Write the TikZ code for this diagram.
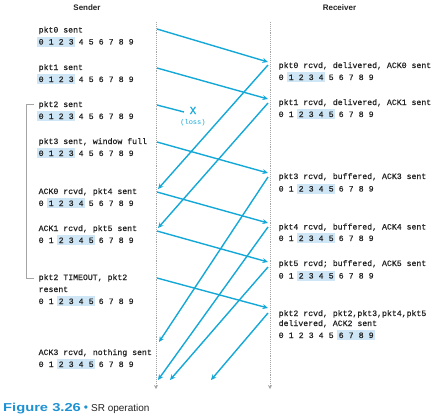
\documentclass[tikz,border=0pt]{standalone}
\usepackage{fontspec}
\usepackage{graphicx}
\setmainfont{Liberation Sans}
\setmonofont{Liberation Mono}
\newfontfamily\mymono[FakeBold=0.5]{Liberation Mono}
\usetikzlibrary{arrows.meta}
\definecolor{arrowc}{RGB}{20,168,214}
\definecolor{hlc}{RGB}{206,230,246}
\definecolor{txtc}{RGB}{35,35,35}
\definecolor{capc}{RGB}{30,145,210}
\definecolor{tlc}{RGB}{165,165,165}
\tikzset{
  txt/.style={anchor=base west, inner sep=0pt, font=\mymono\fontsize{8.2}{10}\selectfont, text=txtc},
  msg/.style={draw=arrowc, line width=1.4pt, -{Stealth[length=5.5pt,width=5pt]}},
  lost/.style={draw=arrowc, line width=1.4pt},
  tline/.style={draw=tlc, line width=0.9pt, densely dotted, -{Stealth[length=4pt,width=4pt]}},
  brk/.style={draw=tlc, line width=0.8pt},
  hl/.style={fill=hlc},
  ttl/.style={inner sep=0pt, font=\bfseries\fontsize{8}{10}\selectfont, text=txtc},
}
\newcommand\digrow[5]{%
  \fill[hl] ({#2+10*#4-2},{#3-7.6}) rectangle ({#2+10*#5+6.9},{#3+2.4});
  \foreach \k in {0,...,9} \node[txt] (#1-\k) at ({#2+10*\k},#3) {\k};
}
\begin{document}
\begin{tikzpicture}[x=1pt,y=-1pt]
\useasboundingbox (0,0) rectangle (432,418);
% titles
\node[ttl] (sender) at (87,8) {Sender};
\node[ttl] (receiver) at (339.5,8) {Receiver};
% timelines
\coordinate (sTop) at (156,22); \coordinate (sBot) at (156,389);
\coordinate (rTop) at (270,22); \coordinate (rBot) at (270,389);
\draw[tline] (sTop) -- (sBot);
\draw[tline] (rTop) -- (rBot);
% bracket
\coordinate (b1) at (34,104); \coordinate (b2) at (26,104);
\coordinate (b3) at (26,278); \coordinate (b4) at (34,278);
\draw[brk] (b1) -- (b2) -- (b3) -- (b4);
% sender texts
\node[txt] (s0) at (38.5,32.5) {pkt0 sent};
\digrow{s0r}{38.5}{44.5}{0}{3}
\node[txt] (s1) at (38.5,70) {pkt1 sent};
\digrow{s1r}{38.5}{82}{0}{3}
\node[txt] (s2) at (38.5,107) {pkt2 sent};
\digrow{s2r}{38.5}{119}{0}{3}
\node[txt] (s3) at (38.5,144) {pkt3 sent, window full};
\digrow{s3r}{38.5}{156}{0}{3}
\node[txt] (s4) at (38.5,194) {ACK0 rcvd, pkt4 sent};
\digrow{s4r}{38.5}{206}{1}{4}
\node[txt] (s5) at (38.5,231) {ACK1 rcvd, pkt5 sent};
\digrow{s5r}{38.5}{243}{2}{5}
\node[txt] (s6) at (38.5,280) {pkt2 TIMEOUT, pkt2};
\node[txt] (s6b) at (38.5,292) {resent};
\digrow{s6r}{38.5}{304}{2}{5}
\node[txt] (s7) at (38.5,355) {ACK3 rcvd, nothing sent};
\digrow{s7r}{38.5}{367}{2}{5}
% receiver texts
\node[txt] (r0) at (278.5,68) {pkt0 rcvd, delivered, ACK0 sent};
\digrow{r0r}{278.5}{80}{1}{4}
\node[txt] (r1) at (278.5,105) {pkt1 rcvd, delivered, ACK1 sent};
\digrow{r1r}{278.5}{117}{2}{5}
\node[txt] (r3) at (278.5,179) {pkt3 rcvd, buffered, ACK3 sent};
\digrow{r3r}{278.5}{191.5}{2}{5}
\node[txt] (r4) at (278.5,229.5) {pkt4 rcvd, buffered, ACK4 sent};
\digrow{r4r}{278.5}{241}{2}{5}
\node[txt] (r5) at (278.5,266) {pkt5 rcvd; buffered, ACK5 sent};
\digrow{r5r}{278.5}{278.5}{2}{5}
\node[txt] (r2) at (278.5,316) {pkt2 rcvd, pkt2,pkt3,pkt4,pkt5};
\node[txt] (r2b) at (278.5,326) {delivered, ACK2 sent};
\digrow{r2r}{278.5}{338}{6}{9}
% message end points
\coordinate (p0s) at (157,29);  \coordinate (p0r) at (268,62);
\coordinate (p1s) at (157,68);  \coordinate (p1r) at (268,99);
\coordinate (p2s) at (157,105); \coordinate (p2x) at (184,112);
\coordinate (p3s) at (157,142); \coordinate (p3r) at (268,173);
\coordinate (p4s) at (157,192); \coordinate (p4r) at (268,223);
\coordinate (p5s) at (157,231); \coordinate (p5r) at (268,262);
\coordinate (q2s) at (157,278); \coordinate (q2r) at (268,308);
\coordinate (a0r) at (268,65);  \coordinate (a0s) at (158,189);
\coordinate (a1r) at (268,103); \coordinate (a1s) at (158,228);
\coordinate (a3r) at (268,177); \coordinate (a3s) at (159,342);
\coordinate (a4r) at (268,227); \coordinate (a4s) at (158,380);
\coordinate (a5r) at (268,267); \coordinate (a5s) at (170,380);
\coordinate (a2r) at (268,313); \coordinate (a2s) at (211,380);
% packets
\draw[msg] (p0s) -- (p0r);
\draw[msg] (p1s) -- (p1r);
\draw[lost] (p2s) -- (p2x);
\draw[msg] (p3s) -- (p3r);
\draw[msg] (p4s) -- (p4r);
\draw[msg] (p5s) -- (p5r);
\draw[msg] (q2s) -- (q2r);
% acks
\draw[msg] (a0r) -- (a0s);
\draw[msg] (a1r) -- (a1s);
\draw[msg] (a3r) -- (a3s);
\draw[msg] (a4r) -- (a4s);
\draw[msg] (a5r) -- (a5s);
\draw[msg] (a2r) -- (a2s);
% loss
\node[inner sep=0pt, text=arrowc, font=\mymono\fontsize{11}{12}\selectfont] (lossx) at (193,110.5) {X};
\node[inner sep=0pt, text=arrowc, font=\ttfamily\fontsize{7}{8}\selectfont] (losst) at (193,123) {(loss)};
% caption
\node[anchor=base west, inner sep=0pt] (cap) at (3,411)
  {\textcolor{capc}{\scalebox{1.28}[1]{\bfseries\fontsize{11.5}{13}\selectfont Figure 3.26}}\hspace{3pt}{\color{capc}\fontsize{12}{12}\selectfont\textbullet}\hspace{3pt}{\color{txtc}\fontsize{10}{12}\selectfont SR operation}};
\end{tikzpicture}
\end{document}
